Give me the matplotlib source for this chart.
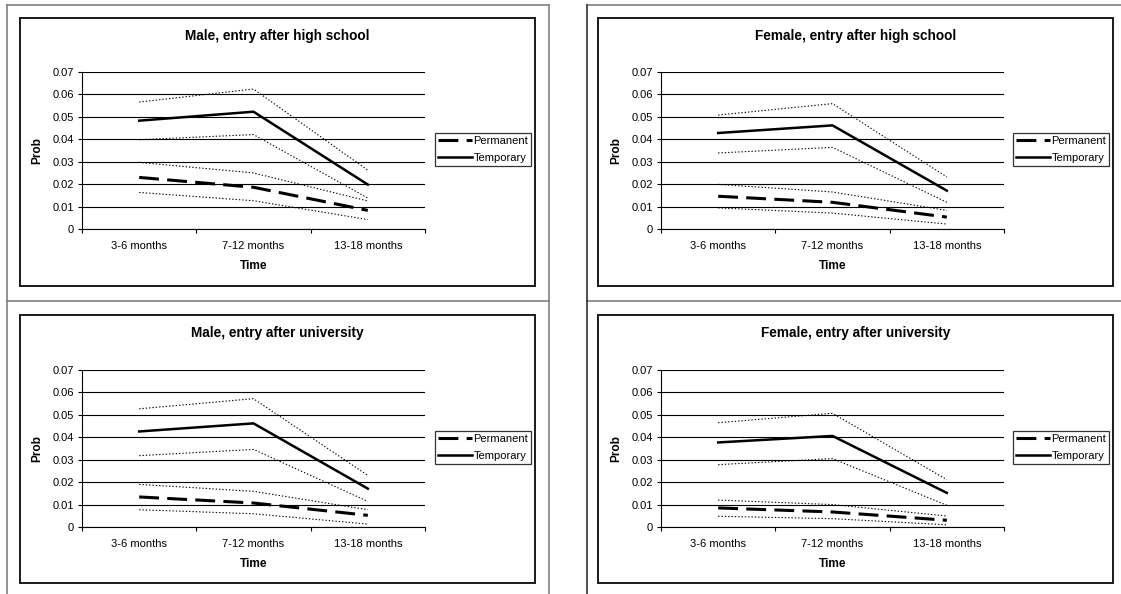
import numpy as np
import matplotlib
matplotlib.use('Agg')
import matplotlib.pyplot as plt
from matplotlib.lines import Line2D
from matplotlib.patches import Rectangle

plt.rcParams['font.family'] = ['Liberation Sans', 'DejaVu Sans']

categories = ['3-6 months', '7-12 months', '13-18 months']
yticks = [0, 0.01, 0.02, 0.03, 0.04, 0.05, 0.06, 0.07]
ytick_labels = ['0', '0.01', '0.02', '0.03', '0.04', '0.05', '0.06', '0.07']
series_names = ['Permanent', 'Temporary']
titles = [
    'Male, entry after high school',
    'Female, entry after high school',
    'Male, entry after university',
    'Female, entry after university',
]

# Male, entry after high school
mhs_perm = [0.0230, 0.0186, 0.0083]
mhs_perm_hi = [0.0297, 0.0250, 0.0125]
mhs_perm_lo = [0.0163, 0.0126, 0.0042]
mhs_temp = [0.0483, 0.0523, 0.0198]
mhs_temp_hi = [0.0566, 0.0624, 0.0262]
mhs_temp_lo = [0.0398, 0.0421, 0.0138]

# Female, entry after high school
fhs_perm = [0.0146, 0.0119, 0.0053]
fhs_perm_hi = [0.0199, 0.0165, 0.0083]
fhs_perm_lo = [0.0094, 0.0071, 0.0022]
fhs_temp = [0.0428, 0.0462, 0.0171]
fhs_temp_hi = [0.0508, 0.0559, 0.0232]
fhs_temp_lo = [0.0339, 0.0364, 0.0119]

# Male, entry after university
mu_perm = [0.0134, 0.0107, 0.0052]
mu_perm_hi = [0.0190, 0.0159, 0.0077]
mu_perm_lo = [0.0077, 0.0059, 0.0013]
mu_temp = [0.0426, 0.0462, 0.0171]
mu_temp_hi = [0.0527, 0.0572, 0.0230]
mu_temp_lo = [0.0318, 0.0346, 0.0114]

# Female, entry after university
fu_perm = [0.0085, 0.0067, 0.0030]
fu_perm_hi = [0.0120, 0.0100, 0.0049]
fu_perm_lo = [0.0048, 0.0037, 0.0010]
fu_temp = [0.0377, 0.0406, 0.0152]
fu_temp_hi = [0.0465, 0.0507, 0.0211]
fu_temp_lo = [0.0278, 0.0305, 0.0097]

panels = [
    (mhs_perm, mhs_perm_hi, mhs_perm_lo, mhs_temp, mhs_temp_hi, mhs_temp_lo),
    (fhs_perm, fhs_perm_hi, fhs_perm_lo, fhs_temp, fhs_temp_hi, fhs_temp_lo),
    (mu_perm, mu_perm_hi, mu_perm_lo, mu_temp, mu_temp_hi, mu_temp_lo),
    (fu_perm, fu_perm_hi, fu_perm_lo, fu_temp, fu_temp_hi, fu_temp_lo),
]

W, H = 1121, 594
fig = plt.figure(figsize=(W / 100, H / 100), dpi=100)


def fx(px):
    return px / W


def fy(py):
    return 1 - py / H


# Table lines around the four cells
tbl = dict(transform=fig.transFigure, lw=1.2)
for xs, ys, c in [
        ((7, 549), (5, 5), '#808080'),
        ((587, W), (5, 5), '#808080'),
        ((7, 549), (301, 301), '#808080'),
        ((587, W), (301, 301), '#808080'),
        ((7, 7), (5, H), '#808080'),
        ((549, 549), (5, H), '#808080'),
        ((587, 587), (5, H), '#303030')]:
    fig.add_artist(Line2D([fx(x) for x in xs], [fy(y) for y in ys],
                          color=c, **tbl))

# Pixel layout of each panel: chart box x0, x1, y0, y1, plot left/right, plot top/bottom
boxes = [
    (20, 535, 18, 286, 82, 425, 72, 229),
    (598, 1113, 18, 286, 661, 1004, 72, 229),
    (20, 535, 315, 583, 82, 425, 370, 527),
    (598, 1113, 315, 583, 661, 1004, 370, 527),
]

x = np.array([0.5, 1.5, 2.5])

for title, data, b in zip(titles, panels, boxes):
    bx0, bx1, by0, by1, px0, px1, py0, py1 = b
    fig.add_artist(Rectangle((fx(bx0), fy(by1)), fx(bx1 - bx0),
                             (by1 - by0) / H, transform=fig.transFigure,
                             fill=False, ec='#1a1a1a', lw=1.4))
    fig.text(fx((bx0 + bx1) / 2), fy(by0 + 18), title, ha='center',
             va='center', fontsize=9.8, fontweight='bold')

    ax = fig.add_axes([fx(px0), fy(py1), fx(px1 - px0), (py1 - py0) / H])
    perm, perm_hi, perm_lo, temp, temp_hi, temp_lo = data

    dot = dict(color='black', lw=0.8, ls=(0, (1.2, 1.8)))
    for s in (perm_hi, perm_lo, temp_hi, temp_lo):
        ax.plot(x, s, **dot)
    ax.plot(x, perm, color='black', lw=2.2, dashes=(6.5, 2.7),
            label=series_names[0])
    ax.plot(x, temp, color='black', lw=1.8, label=series_names[1])

    ax.set_xlim(0, 3)
    ax.set_ylim(0, 0.07)
    ax.set_yticks(yticks)
    ax.set_yticklabels(ytick_labels)
    ax.set_xticks([0, 1, 2, 3])
    ax.set_xticklabels([])
    ax.set_xticks(x, minor=True)
    ax.set_xticklabels(categories, minor=True)
    ax.tick_params(axis='x', which='minor', length=0, pad=8.5, labelsize=8)
    ax.tick_params(axis='x', which='major', length=3, width=0.8,
                   direction='out')
    ax.tick_params(axis='y', length=3, width=0.8, direction='out', pad=3,
                   labelsize=8)
    ax.yaxis.grid(True, color='black', lw=0.8)
    ax.set_axisbelow(True)
    for side in ('top', 'right'):
        ax.spines[side].set_visible(False)
    for side in ('left', 'bottom'):
        ax.spines[side].set_linewidth(0.8)

    ax.set_xlabel('Time', fontsize=8.6, fontweight='bold')
    ax.xaxis.label.set_va('center')
    ax.xaxis.set_label_coords(0.5, -37 / (py1 - py0))
    ax.set_ylabel('Prob', fontsize=8.6, fontweight='bold')
    ax.yaxis.label.set_va('center')
    ax.yaxis.set_label_coords(-44.5 / (px1 - px0), 0.5)

    leg = ax.legend(loc='upper left',
                    bbox_to_anchor=(fx(bx1 - 100), fy(py0 + 61)),
                    bbox_transform=fig.transFigure, fontsize=8,
                    frameon=True, fancybox=False, borderpad=0.3,
                    labelspacing=0.6, handlelength=3.05, handletextpad=0.1,
                    borderaxespad=0)
    leg.get_frame().set_edgecolor('black')
    leg.get_frame().set_linewidth(0.9)

fig.savefig('out.png', dpi=100)
